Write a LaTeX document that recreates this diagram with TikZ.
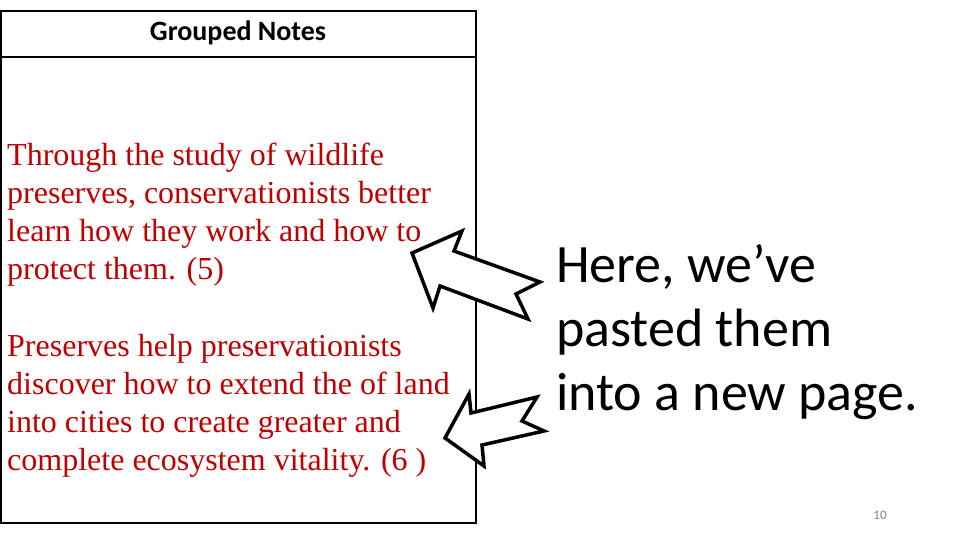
\documentclass[tikz,border=0pt]{standalone}
\usepackage{fontspec}
\setmainfont{Liberation Serif}
\newfontfamily\carl{Carlito}
\definecolor{tred}{RGB}{192,0,0}
\begin{document}
\begin{tikzpicture}[x=1pt,y=-1pt,
  arr/.style={draw=black,line width=3.5pt,line join=miter,fill=white},
  red/.style={text=tred,font=\fontsize{32}{38}\selectfont,align=left,anchor=north west,inner sep=0pt}]
\useasboundingbox (0,0) rectangle (960,540);
\draw[line width=1.2pt] (1,11) rectangle (476,523);
\draw[line width=1.2pt] (1,57) -- (476,57);
\node (hd) at (238,33) {\carl\bfseries\fontsize{28}{32}\selectfont Grouped Notes};
\node[red] (p1) at (7,143) {Through the study of wildlife\\preserves, conservationists better\\learn how they work and how to\\protect them. (5)};
\node[red] (p2) at (7,334) {Preserves help preservationists\\discover how to extend the of land\\into cities to create greater and\\complete ecosystem vitality. (6 )};
\node[anchor=north west,inner sep=0pt,align=left,font=\carl\fontsize{54}{64}\selectfont] (rt) at (556,244) {Here, we’ve\\pasted them\\into a new page.};
\node[text=gray,font=\carl\fontsize{13}{15}\selectfont] (pg) at (880,515) {10};
\draw[arr] (412,253) -- (462,231) -- (454,251) -- (540,282) -- (516,294) -- (528,319) -- (440,286) -- (433,308) -- cycle;
\draw[arr] (445,438) -- (469,394) -- (471,413) -- (537,397) -- (522,421) -- (544,431) -- (482,445) -- (484,466) -- cycle;
\end{tikzpicture}
\end{document}
